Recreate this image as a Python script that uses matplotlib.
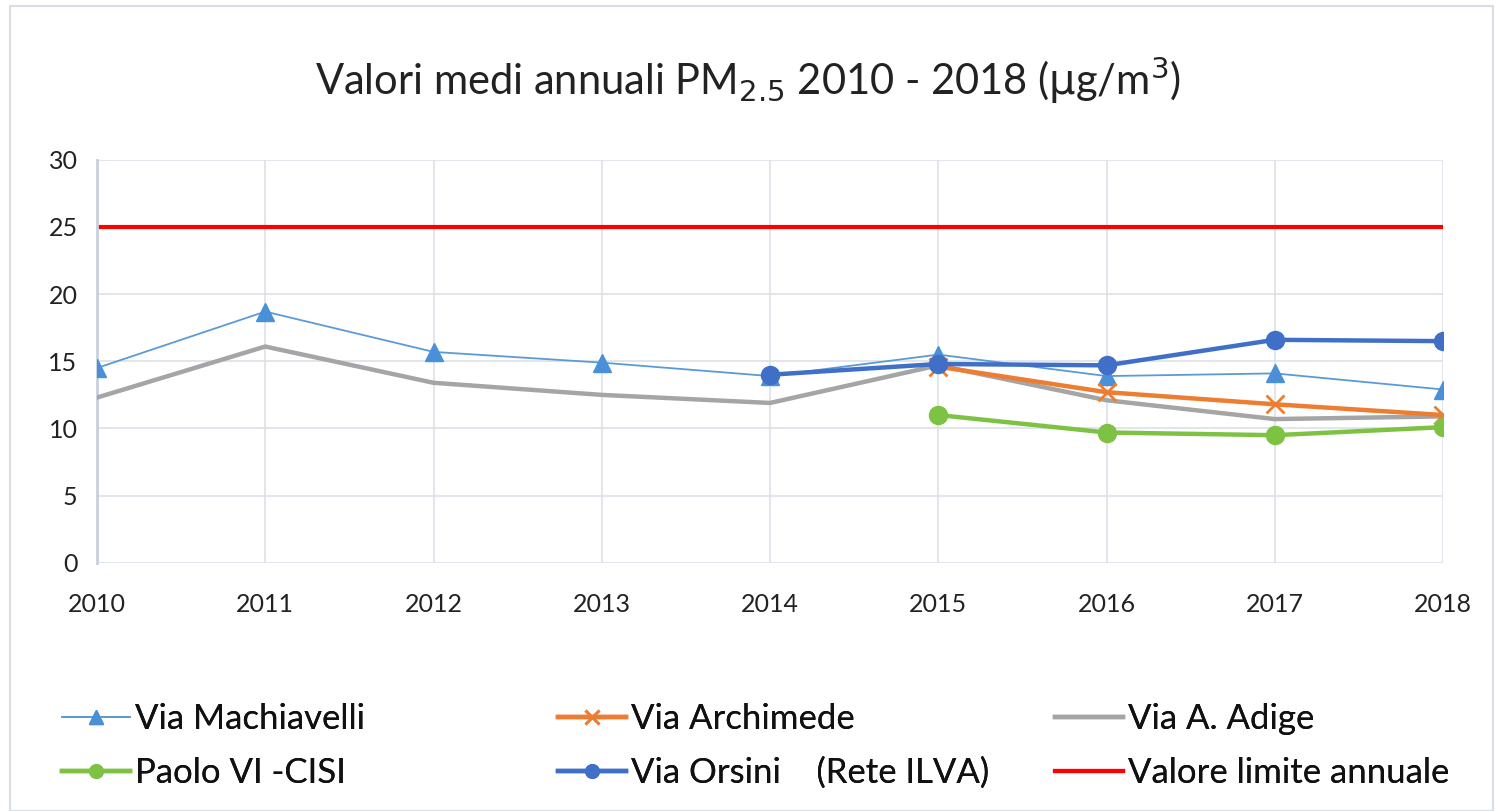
import matplotlib
matplotlib.use("Agg")
import matplotlib.pyplot as plt
from matplotlib.patches import Rectangle

years = [2010, 2011, 2012, 2013, 2014, 2015, 2016, 2017, 2018]
machiavelli = [14.5, 18.7, 15.7, 14.9, 13.9, 15.5, 13.9, 14.1, 12.9]
adige = [12.3, 16.1, 13.4, 12.5, 11.9, 14.7, 12.1, 10.7, 10.9]
archimede_years = [2015, 2016, 2017, 2018]
archimede = [14.6, 12.7, 11.8, 11.0]
paolo_years = [2015, 2016, 2017, 2018]
paolo = [11.0, 9.7, 9.5, 10.1]
orsini_years = [2014, 2015, 2016, 2017, 2018]
orsini = [14.0, 14.8, 14.7, 16.6, 16.5]
limite = [25] * len(years)
yticks = [0, 5, 10, 15, 20, 25, 30]

plt.rcParams['font.family'] = ['Lato', 'DejaVu Sans']

fig = plt.figure(figsize=(14.97, 8.11), dpi=100)
fig.patches.append(Rectangle((0.007, 0.0), 0.99, 0.993, transform=fig.transFigure,
                             fill=False, edgecolor='#D9DDE6', linewidth=1.5))
ax = fig.add_axes([0.0648, 0.306, 0.8992, 0.497])

c_mach = '#5B9BD5'
c_arch = '#ED7D31'
c_adige = '#A5A5A5'
c_paolo = '#7DC243'
c_orsini = '#3F6FC6'
c_lim = '#FF0000'

h_lim, = ax.plot(years, limite, color=c_lim, lw=3, label='Valore limite annuale', zorder=2)
h_adige, = ax.plot(years, adige, color=c_adige, lw=3.2, label='Via A. Adige', zorder=3)
h_mach, = ax.plot(years, machiavelli, color=c_mach, lw=1.3, marker='^', ms=13,
                  markerfacecolor='#4A90D9', markeredgecolor='#4A90D9', label='Via Machiavelli', zorder=4)
h_arch, = ax.plot(archimede_years, archimede, color=c_arch, lw=3.2, marker='x', ms=13, mew=2,
                  label='Via Archimede', zorder=5)
h_paolo, = ax.plot(paolo_years, paolo, color=c_paolo, lw=3.2, marker='o', ms=13,
                   label='Paolo VI -CISI', zorder=5)
h_ors, = ax.plot(orsini_years, orsini, color=c_orsini, lw=3.2, marker='o', ms=13,
                 label='Via Orsini    (Rete ILVA)', zorder=6)

ax.set_xlim(2010, 2018)
ax.set_ylim(0, 30)
ax.set_yticks(yticks)
ax.set_xticks(years)
ax.grid(True, color='#DDE0E8', lw=1.2)
ax.set_axisbelow(True)
for s in ['top', 'right', 'bottom']:
    ax.spines[s].set_visible(False)
ax.spines['left'].set_color('#C8D0DE')
ax.spines['left'].set_linewidth(2)
ax.tick_params(length=0, labelsize=18, colors='#222222')
ax.tick_params(axis='x', pad=22)
ax.tick_params(axis='y', pad=14)

fig.text(0.5, 0.901, r'Valori medi annuali PM$_{2.5}$ 2010 - 2018 ($\mathrm{\mu}$g/m$^3$)',
         ha='center', va='center', fontsize=30, color='#222222')

cols = [([h_mach, h_paolo], 0.0414), ([h_arch, h_ors], 0.373), ([h_adige, h_lim], 0.705)]
for hs, x0 in cols:
    leg = fig.legend(handles=hs, labels=[h.get_label() for h in hs], ncol=1,
                     loc='center left', bbox_to_anchor=(x0, 0.080), frameon=False,
                     fontsize=25, handlelength=1.95, handletextpad=0.15,
                     labelspacing=0.62, borderpad=0, borderaxespad=0, markerscale=0.75)
    for t in leg.get_texts():
        t.set_color('#111111')
    fig.add_artist(leg)

fig.savefig('out.png', dpi=100, facecolor='white')
